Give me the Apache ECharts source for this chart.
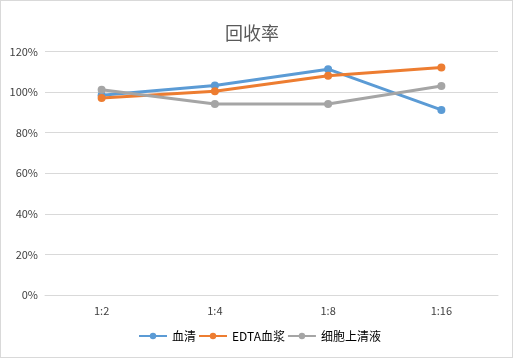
<!DOCTYPE html>
<html><head><meta charset="utf-8">
<script src="https://cdn.jsdelivr.net/npm/echarts@6/dist/echarts.min.js"></script>
<style>html,body{margin:0;padding:0;background:#fff;}#c{width:511px;height:356px;border:1px solid #d9d9d9;}</style>
</head><body><div id="c"></div>
<script>
const categories = ['1:2','1:4','1:8','1:16'];
const serum = [98.4, 103.2, 111.3, 91.2];
const edtaPlasma = [97.1, 100.4, 108.1, 112.1];
const cellSupernatant = [101.2, 94.1, 94.1, 103.0];
const seriesNames = ['血清','EDTA血浆','细胞上清液'];
const colors = ['#5B9BD5','#ED7D31','#A5A5A5'];
const font = '"Microsoft YaHei","Noto Sans CJK SC","DejaVu Sans",sans-serif';
const chart = echarts.init(document.getElementById('c'));
const mk = (name, data, color) => ({
  name, type:'line', data, color, symbol:'circle', symbolSize:8,
  lineStyle:{width:3,color}, itemStyle:{color}
});
chart.setOption({
  animation:false,
  title:{text:'回收率', left:219, top:18, textStyle:{fontFamily:font, fontSize:18, fontWeight:'normal', color:'#595959'}},
  grid:{left:44, right:14, top:50.5, bottom:62},
  legend:{bottom:10, left:132, itemWidth:28, itemHeight:8, itemGap:2,
    textStyle:{fontFamily:font, fontSize:12, color:'#000'}, data:seriesNames},
  xAxis:{type:'category', data:categories, boundaryGap:true,
    axisLine:{lineStyle:{color:'#d9d9d9'}}, axisTick:{show:false},
    axisLabel:{fontFamily:font, fontSize:11, color:'#404040', margin:10}},
  yAxis:{type:'value', min:0, max:120, interval:20,
    axisLine:{show:false}, axisTick:{show:false},
    splitLine:{lineStyle:{color:'#d9d9d9'}},
    axisLabel:{fontFamily:font, fontSize:11, color:'#404040', formatter:'{value}%', margin:7}},
  series:[mk(seriesNames[0], serum, colors[0]), mk(seriesNames[1], edtaPlasma, colors[1]), mk(seriesNames[2], cellSupernatant, colors[2])]
});
</script></body></html>
